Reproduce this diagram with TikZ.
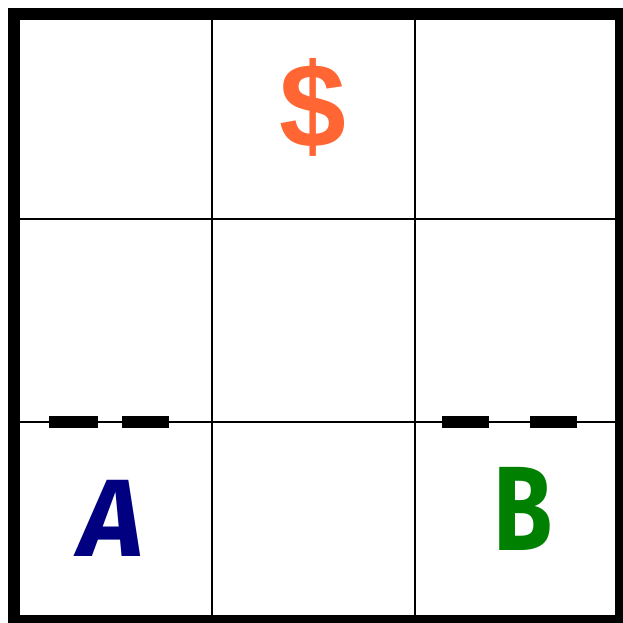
\documentclass[tikz,border=0pt]{standalone}
\usepackage{fontspec}
\setmainfont{Liberation Sans}
\newfontfamily\letterfont{Fira Sans}
\definecolor{dollarorange}{RGB}{255,102,51}
\definecolor{navyA}{RGB}{0,0,128}
\definecolor{greenB}{RGB}{0,128,0}
\begin{document}
\begin{tikzpicture}[x=1pt,y=-1pt,
  gridline/.style={line width=2pt,black},
  wall/.style={line width=12pt,black},
  doorbar/.style={line width=12pt,black},
  lbl/.style={inner sep=0pt,outer sep=0pt}]
\useasboundingbox (0,0) rectangle (622,623);
\fill[white] (0,0) rectangle (622,623);
% grid
\draw[gridline] (212,14) -- (212,620);
\draw[gridline] (415,14) -- (415,620);
\draw[gridline] (14,219) -- (620,219);
\draw[gridline] (14,422) -- (620,422);
% door bars
\draw[doorbar] (49,422) -- (98,422);
\draw[doorbar] (122,422) -- (169,422);
\draw[doorbar] (442,422) -- (489,422);
\draw[doorbar] (530,422) -- (577,422);
% outer wall
\draw[wall] (14,14) rectangle (621,621);
% labels
\node[lbl,text=dollarorange] (dollar) at (312.5,107) {\fontsize{120}{120}\selectfont\bfseries\$};
\node[lbl,text=navyA] (A) at (111,518) {\fontsize{110}{110}\selectfont\letterfont\bfseries\itshape A};
\node[lbl,text=greenB,xscale=0.8] (B) at (523,509) {\fontsize{120}{120}\selectfont\letterfont\bfseries B};
\end{tikzpicture}
\end{document}
